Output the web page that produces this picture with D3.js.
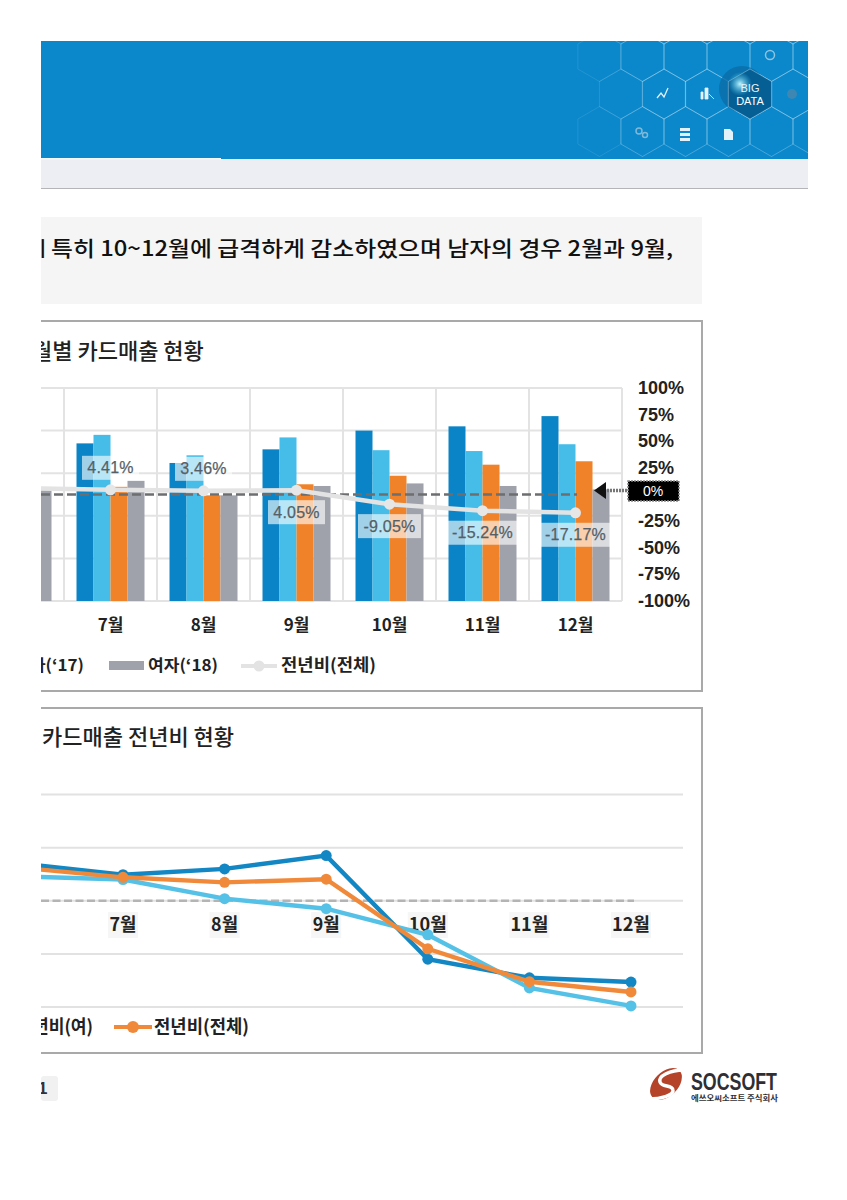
<!DOCTYPE html>
<html><head><meta charset="utf-8">
<script src="https://cdnjs.cloudflare.com/ajax/libs/d3/7.8.5/d3.min.js"></script>
<style>
html,body{margin:0;padding:0;background:#fff}
svg{display:block}
.kr{font-family:"Noto Sans CJK KR","Noto Sans",sans-serif}
.lat{font-family:"Liberation Sans",Arial,sans-serif}
</style></head><body>
<svg id="c" width="847" height="1200"></svg>
<script>
const months = ["6월","7월","8월","9월","10월","11월","12월"];
const barSeries = ["남자('17)","남자('18)","여자('17)","여자('18)"];
const maleA   = [null,185,162,178,200,205,217];
const maleB   = [null,195,171,192,177,176,184];
const femaleA = [null,134,124,137,147,160,164];
const femaleB = [130,141,124,135,138,135,131];
const yoyTotal  = [6.2,4.41,3.46,4.05,-9.05,-15.24,-17.17];
const yoyMale   = [7.0,4.9,6.0,8.5,-11.0,-14.5,-15.3];
const yoyFemale = [4.6,4.0,0.4,-1.5,-6.4,-16.4,-19.8];
const rightTicks = [100,75,50,25,0,-25,-50,-75,-100];
const lineGrid = [-20,-10,0,10,20];
const barColors = ["#0a84c6","#45bde8","#f08229","#9fa2ab"];
const lineColors = {male:"#1287c4",female:"#56c1e6",total:"#f08a3a"};

const svg = d3.select("#c");
const defs = svg.append("defs");
defs.append("clipPath").attr("id","page").append("rect").attr("x",41).attr("y",0).attr("width",767).attr("height",1200);
defs.append("clipPath").attr("id","head").append("rect").attr("x",41).attr("y",41).attr("width",767).attr("height",118);
const rg = defs.append("radialGradient").attr("id","glow");
rg.append("stop").attr("offset","0%").attr("stop-color","#bff4ff");
rg.append("stop").attr("offset","100%").attr("stop-color","#3ec4ee").attr("stop-opacity",0);
const root = svg.append("g").attr("clip-path","url(#page)");

/* header */
root.append("rect").attr("x",41).attr("y",41).attr("width",767).attr("height",118).attr("fill","#0a88cb");
root.append("rect").attr("x",41).attr("y",159).attr("width",767).attr("height",29).attr("fill","#eceef3");
root.append("rect").attr("x",41).attr("y",158).attr("width",180).attr("height",1.5).attr("fill","#f4f8fb");
root.append("rect").attr("x",41).attr("y",188).attr("width",767).attr("height",1).attr("fill","#b5b5b8");
const hex=(cx,cy,R)=>d3.range(6).map(i=>{const a=Math.PI/3*i-Math.PI/2;return [cx+R*Math.cos(a),cy+R*Math.sin(a)]});
const hexPath=(cx,cy,R)=>"M"+hex(cx,cy,R).join("L")+"Z";
const hg=root.append("g").attr("clip-path","url(#head)");
[19,94].forEach(y=>[621,664,707,750,793].forEach(x=>{
  hg.append("path").attr("d",hexPath(x,y,25)).attr("fill","none").attr("stroke","#fff").attr("stroke-opacity",x===621?0.12:0.28);
}));
[56.5,131.5].forEach(y=>[599.5,642.5,685.5,728.5,771.5,814.5].forEach(x=>{
  hg.append("path").attr("d",hexPath(x,y,25)).attr("fill","none").attr("stroke","#fff").attr("stroke-opacity",x<640?0.1:0.25);
}));
hg.append("circle").attr("cx",742).attr("cy",89).attr("r",23).attr("fill","#0a6ea8").attr("opacity",.8);
hg.append("path").attr("d",hexPath(750,94,25)).attr("fill","#055f95").attr("stroke","#fff").attr("stroke-opacity",.3);
hg.append("circle").attr("cx",740).attr("cy",84).attr("r",12).attr("fill","url(#glow)");
hg.append("text").attr("class","lat").attr("x",750).attr("y",92).attr("text-anchor","middle").attr("font-size",11).attr("fill","#e8f4fb").text("BIG");
hg.append("text").attr("class","lat").attr("x",750).attr("y",105).attr("text-anchor","middle").attr("font-size",11).attr("fill","#fff").text("DATA");
/* little icons */
hg.append("path").attr("d","M657 98L661 93L664 97L668 88").attr("fill","none").attr("stroke","#e3f2fa").attr("stroke-width",1.3);
hg.append("path").attr("d","M701 99V92H703V99ZM705 99V88H708V99ZM709 94L714 99").attr("fill","#e3f2fa").attr("stroke","#e3f2fa").attr("stroke-width",.8);
hg.append("path").attr("d","M680 128h10v3h-10zM680 133h10v3h-10zM680 138h10v3h-10z").attr("fill","#e3f2fa");
hg.append("path").attr("d","M724 129h6l3 3v8h-9z").attr("fill","#e3f2fa");
hg.append("circle").attr("cx",639).attr("cy",131).attr("r",3).attr("fill","none").attr("stroke","#7fb9d8").attr("stroke-width",1.5);
hg.append("circle").attr("cx",645).attr("cy",135).attr("r",2.5).attr("fill","none").attr("stroke","#7fb9d8").attr("stroke-width",1.5);
hg.append("circle").attr("cx",770).attr("cy",55).attr("r",4.5).attr("fill","none").attr("stroke","#8fc3de").attr("stroke-width",1.5);
hg.append("circle").attr("cx",792).attr("cy",94).attr("r",5).attr("fill","#3d87b2");

/* summary box */
root.append("rect").attr("x",41).attr("y",217).attr("width",661).attr("height",87).attr("fill","#f5f5f5");
root.append("text").attr("class","kr").attr("x",33).attr("y",256).attr("font-size",21).attr("font-weight",500).attr("fill","#111").text("ㅣ");
root.append("text").attr("class","kr").attr("x",51).attr("y",256).attr("font-size",21).attr("font-weight",500).attr("fill","#111")
  .attr("textLength",622).attr("lengthAdjust","spacingAndGlyphs").text("특히 10~12월에 급격하게 감소하였으며 남자의 경우 2월과 9월,");

/* panels */
const panel=(y,h)=>root.append("rect").attr("x",30).attr("y",y).attr("width",672).attr("height",h).attr("fill","#fff").attr("stroke","#a9a9a9").attr("stroke-width",2);
panel(321,370); panel(708,345);
root.append("text").attr("class","kr").attr("x",32).attr("y",359).attr("font-size",22).attr("font-weight",500).attr("fill","#222").text("월별 카드매출 현황");
root.append("text").attr("class","kr").attr("x",42).attr("y",745).attr("font-size",22).attr("font-weight",500).attr("fill","#222").text("카드매출 전년비 현황");

/* bar chart */
const xBand=d3.scaleBand().domain(months).range([-29,622]);
const xSub=d3.scaleBand().domain(barSeries).range([12.5,80.5]);
const yBar=d3.scaleLinear().domain([0,250]).range([601,388]);
const yPct=d3.scaleLinear().domain([-100,100]).range([601,388]);
const grid=root.append("g").attr("stroke","#e3e3e3").attr("stroke-width",2);
yBar.ticks(5).forEach(t=>grid.append("line").attr("x1",41).attr("x2",622).attr("y1",yBar(t)).attr("y2",yBar(t)));
months.concat(["end"]).forEach((m,i)=>{const x=-29+i*xBand.step();
  grid.append("line").attr("x1",x).attr("x2",x).attr("y1",388).attr("y2",601);});
[maleA,maleB,femaleA,femaleB].forEach((vals,si)=>{
  root.append("g").selectAll("rect").data(vals.map((v,i)=>({v,m:months[i]})).filter(d=>d.v!==null)).join("rect")
    .attr("x",d=>xBand(d.m)+xSub(barSeries[si])).attr("width",xSub.bandwidth())
    .attr("y",d=>yBar(d.v)).attr("height",d=>yBar(0)-yBar(d.v)).attr("fill",barColors[si]);
});
const xC=m=>xBand(m)+xBand.bandwidth()/2;
root.append("line").attr("x1",41).attr("x2",577).attr("y1",yPct(0)).attr("y2",yPct(0)).attr("stroke","#6d6e70").attr("stroke-width",2.6).attr("stroke-dasharray","9 4");
const lineBar=d3.line().x((d,i)=>xC(months[i])).y(d=>yPct(d));
root.append("path").attr("d",lineBar(yoyTotal)).attr("fill","none").attr("stroke","#e3e3e3").attr("stroke-width",4.5);
root.append("g").selectAll("circle").data(yoyTotal.slice(1)).join("circle")
  .attr("cx",(d,i)=>xC(months[i+1])).attr("cy",d=>yPct(d)).attr("r",5.5).attr("fill","#e6e6e6");
const labelsAbove=["7월","8월"];
yoyTotal.forEach((v,i)=>{
  const m=months[i]; if(m==="6월")return;
  const up=labelsAbove.includes(m);
  const cy=yPct(v)+(up?-22:22), cx=xC(m);
  const w=v<-10?69:(v<0?63:57);
  root.append("rect").attr("x",cx-w/2).attr("y",cy-12).attr("width",w).attr("height",24).attr("fill","#fff").attr("opacity",.62);
  root.append("text").attr("class","lat").attr("x",cx).attr("y",cy+5.5).attr("text-anchor","middle")
    .attr("font-size",16).attr("letter-spacing",.2).attr("fill","#565f67").attr("stroke","#565f67").attr("stroke-width",.25).text(v.toFixed(2)+"%");
});
root.selectAll(null).data(months.slice(1)).join("text").attr("class","kr")
  .attr("x",xC).attr("y",631).attr("text-anchor","middle").attr("font-size",17).attr("font-weight",700).attr("fill","#222").text(d=>d);
/* right axis */
root.selectAll(null).data(rightTicks.filter(t=>t!==0)).join("text").attr("class","lat")
  .attr("x",638).attr("y",d=>yPct(d)+6).attr("font-size",18).attr("font-weight",700).attr("fill","#222").text(d=>d+"%");
root.append("rect").attr("x",628).attr("y",481).attr("width",51).attr("height",20).attr("fill","#000").attr("stroke","#888").attr("stroke-width",1.5).attr("stroke-dasharray","2 1");
root.append("text").attr("class","lat").attr("x",653).attr("y",496).attr("text-anchor","middle").attr("font-size",14).attr("fill","#fff").text("0%");
root.append("line").attr("x1",604).attr("x2",628).attr("y1",490.5).attr("y2",490.5).attr("stroke","#777").attr("stroke-width",3.5).attr("stroke-dasharray","2 1");
root.append("path").attr("d","M594 490.5L606 482V499Z").attr("fill","#111");
/* legend 1 */
const lg=(x,y,t,size,len)=>{const s=root.append("text").attr("class","kr").attr("x",x).attr("y",y).attr("font-size",size||16).attr("font-weight",700).attr("fill","#222").text(t);
  if(len)s.attr("textLength",len).attr("lengthAdjust","spacingAndGlyphs");return s;};
lg(30,671,"자(‘17)",16,54);
root.append("rect").attr("x",109).attr("y",661).attr("width",35).attr("height",9).attr("fill",barColors[3]);
lg(148,671,"여자(‘18)",16,70);
root.append("line").attr("x1",241).attr("x2",277).attr("y1",666).attr("y2",666).attr("stroke","#e3e3e3").attr("stroke-width",4);
root.append("circle").attr("cx",259).attr("cy",666).attr("r",5.5).attr("fill","#e3e3e3");
lg(281,671,"전년비(전체)",17,95);

/* line chart */
const xP=d3.scalePoint().domain(months).range([21.4,631]);
const yL=d3.scaleLinear().domain([-20,20]).range([1007,794.5]);
lineGrid.forEach(t=>root.append("line").attr("x1",41).attr("x2",683).attr("y1",yL(t)).attr("y2",yL(t)).attr("stroke","#e2e2e2").attr("stroke-width",2));
root.append("line").attr("x1",41).attr("x2",634).attr("y1",yL(0)).attr("y2",yL(0)).attr("stroke","#b4b4b4").attr("stroke-width",2.4).attr("stroke-dasharray","8 3.5");
months.slice(1).forEach(m=>{
  root.append("rect").attr("x",xP(m)-(m.length>2?20:15)).attr("y",912).attr("width",m.length>2?40:30).attr("height",26).attr("fill","#f6f6f6");
  root.append("text").attr("class","kr").attr("x",xP(m)).attr("y",931).attr("text-anchor","middle").attr("font-size",18).attr("font-weight",700).attr("fill","#222")
    .attr("textLength",m.length>2?38:27).attr("lengthAdjust","spacingAndGlyphs").text(m);
});
const lineL=d3.line().x((d,i)=>xP(months[i])).y(d=>yL(d));
[[yoyMale,lineColors.male],[yoyFemale,lineColors.female],[yoyTotal,lineColors.total]].forEach(([vals,c])=>{
  root.append("path").attr("d",lineL(vals)).attr("fill","none").attr("stroke",c).attr("stroke-width",4.4);
  root.append("g").selectAll("circle").data(vals).join("circle").attr("cx",(d,i)=>xP(months[i])).attr("cy",d=>yL(d)).attr("r",5.5).attr("fill",c);
});
/* legend 2 */
lg(33,1033,"년비(여)",18,60);
root.append("line").attr("x1",114).attr("x2",152).attr("y1",1027).attr("y2",1027).attr("stroke",lineColors.total).attr("stroke-width",4);
root.append("circle").attr("cx",133).attr("cy",1027).attr("r",6).attr("fill",lineColors.total);
lg(154,1033,"전년비(전체)",18,95);

/* page number + logo */
root.append("rect").attr("x",41).attr("y",1076).attr("width",17).attr("height",25).attr("rx",3).attr("fill","#f1f1f1");
root.append("text").attr("class","lat").attr("x",38).attr("y",1094).attr("font-size",17).attr("font-weight",700).attr("fill","#333").text("1");
root.append("ellipse").attr("cx",666).attr("cy",1084).attr("rx",19).attr("ry",12).attr("transform","rotate(-45 666 1084)").attr("fill","#b5432a");
root.append("path").attr("d","M684 1070C670 1070 658 1076 660 1082C662 1088 672 1084 673 1090C674 1095 662 1099 648 1099")
  .attr("fill","none").attr("stroke","#fff").attr("stroke-width",3.5);
root.append("text").attr("class","lat").attr("x",691).attr("y",1090).attr("font-size",24).attr("font-weight",700).attr("fill","#2f2f33")
  .attr("textLength",86).attr("lengthAdjust","spacingAndGlyphs").text("SOCSOFT");
root.append("text").attr("class","kr").attr("x",691).attr("y",1101).attr("font-size",7.5).attr("font-weight",700).attr("fill","#2f2f33")
  .attr("textLength",87).attr("lengthAdjust","spacingAndGlyphs").text("에쓰오씨소프트 주식회사");
</script>
</body></html>
